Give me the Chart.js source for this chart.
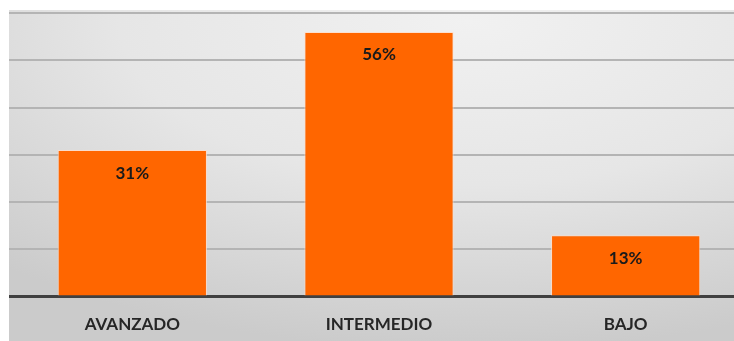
<!DOCTYPE html>
<html>
<head>
<meta charset="utf-8">
<script src="https://cdn.jsdelivr.net/npm/chart.js@4"></script>
<style>
  html, body { margin: 0; padding: 0; background: #fff; overflow: hidden; }
  #wrap { position: absolute; left: 9px; top: 10px; width: 740px; height: 352px; }
</style>
</head>
<body>
<div id="wrap"><canvas id="chart"></canvas></div>
<script>
const categories = ['AVANZADO', 'INTERMEDIO', 'BAJO'];
const values = [31, 56, 13];
const valueLabels = ['31%', '56%', '13%'];

// fondo gris con degradado radial (más claro arriba, hacia la derecha)
const bgPlugin = {
  id: 'bg',
  beforeDraw(chart) {
    const ctx = chart.ctx;
    const w = chart.width, h = chart.height;
    const rx = 700, ry = 330;
    ctx.save();
    ctx.translate(460, 10);
    ctx.scale(1, ry / rx);
    const g = ctx.createRadialGradient(0, 0, 0, 0, 0, rx);
    g.addColorStop(0, '#f1f1f1');
    g.addColorStop(0.5, '#e6e6e6');
    g.addColorStop(1, '#cbcbcb');
    ctx.fillStyle = g;
    ctx.fillRect(-460, -10 * rx / ry, w, h * rx / ry);
    ctx.restore();
  }
};

// etiquetas de valor dentro de las barras
const labelPlugin = {
  id: 'valueLabels',
  afterDatasetsDraw(chart) {
    const ctx = chart.ctx;
    const meta = chart.getDatasetMeta(0);
    ctx.save();
    ctx.font = 'bold 17px Lato, "Open Sans", sans-serif';
    ctx.fillStyle = '#1a1a1a';
    ctx.textAlign = 'center';
    ctx.textBaseline = 'middle';
    meta.data.forEach((bar, i) => {
      ctx.fillText(valueLabels[i], bar.x, bar.y + 23);
    });
    ctx.restore();
  }
};

new Chart(document.getElementById('chart'), {
  type: 'bar',
  data: {
    labels: categories,
    datasets: [{
      data: values,
      backgroundColor: '#ff6600',
      borderColor: 'rgba(255, 220, 200, 0.8)',
      borderWidth: 1,
      borderSkipped: 'bottom',
      barPercentage: 0.605,
      categoryPercentage: 1
    }]
  },
  options: {
    responsive: true,
    maintainAspectRatio: false,
    animation: false,
    layout: { padding: { top: 3, bottom: 9, left: 0, right: 0 } },
    plugins: { legend: { display: false }, tooltip: { enabled: false } },
    scales: {
      x: {
        grid: { display: false, drawTicks: false },
        border: { color: '#404040', width: 3 },
        ticks: {
          padding: 18,
          color: '#262626',
          font: { family: 'Lato, "Open Sans", sans-serif', size: 17, weight: 'bold' }
        }
      },
      y: {
        min: 0,
        max: 60,
        ticks: { display: false, stepSize: 10 },
        border: { display: false },
        grid: { color: '#b4b4b4', lineWidth: 2, drawTicks: false }
      }
    }
  },
  plugins: [bgPlugin, labelPlugin]
});
</script>
</body>
</html>
